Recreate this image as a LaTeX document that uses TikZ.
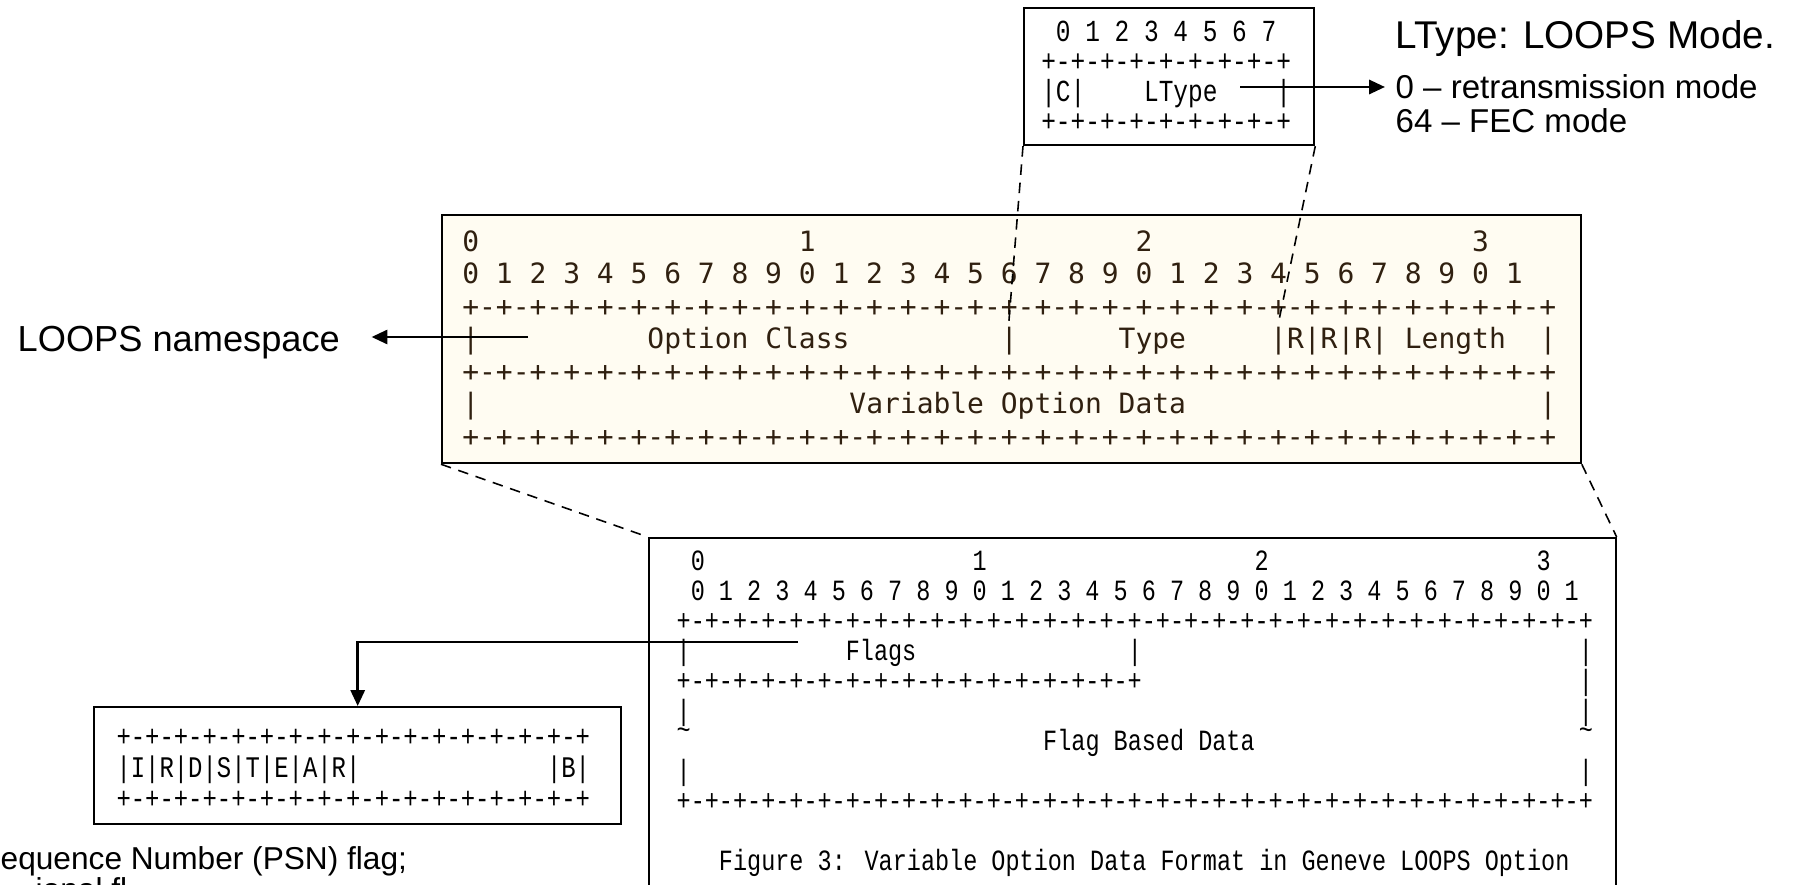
\documentclass[tikz,border=0pt]{standalone}
\usepackage{fontspec}
\setmainfont{Liberation Sans}
\newfontfamily\consfont{DejaVu Sans Mono}
\newfontfamily\sunfont{Liberation Mono}[FakeStretch=0.8]
\usetikzlibrary{arrows.meta}

\definecolor{paper}{RGB}{255,252,242}
\colorlet{box edge}{black}
\colorlet{field ink}{black!75!brown}
\tikzset{
  frame/.style={draw=box edge, line width=0.6pt, inner sep=0pt, anchor=north west},
  fieldrow/.style={anchor=base west, inner sep=0pt}
  }
\tikzstyle{zoom edge} = [draw, line width=0.45pt, dash pattern=on 3pt off 2.2pt]
\tikzstyle{pointer} = [draw, line width=0.75pt, -{Triangle[length=4.5pt,width=4pt]}]
\tikzstyle{label} = [anchor=base west, inner sep=0pt]
\newcommand{\gap}[1]{\hspace*{#1\fontcharwd\font`0}}
\def\byterule{+-+-+-+-+-+-+-+-}
\def\wordrule{\byterule\byterule\byterule\byterule+}

\begin{document}
\begin{tikzpicture}[x=0.01cm, y=-0.01cm]
    \useasboundingbox (0,0) rectangle (1805,885);

    % The frames
    \node[frame, minimum width=2.90cm, minimum height=1.37cm] (ltype) at (1023,7) {};
    \node[frame, fill=paper, minimum width=11.38cm, minimum height=2.48cm] (optbox) at (441,214) {};
    \node[frame, fill=white, minimum width=9.66cm, minimum height=3.8cm] (databox) at (648,537) {};
    \node[frame, minimum width=5.27cm, minimum height=1.17cm] (flagbox) at (93,706) {};

    % The LType byte
    \foreach \y/\name/\txt in {41.5/num/{\gap{1}0 1 2 3 4 5 6 7}, 71.5/top/{\byterule+},
                               101.5/field/{|C|\gap{4}LType\gap{4}|}, 131.5/bot/{\byterule+}}
      \node[fieldrow, font={\sunfont\fontsize{8.7}{10}\selectfont}] (ltype-\name) at (1040.6,\y) {\txt};

    % The Geneve option header
    \foreach \y/\name/\txt in {251.5/tens/{0\gap{19}1\gap{19}2\gap{19}3},
        284/ones/{0 1 2 3 4 5 6 7 8 9 0 1 2 3 4 5 6 7 8 9 0 1 2 3 4 5 6 7 8 9 0 1},
        316.5/r1/{\wordrule},
        349/class/{|\gap{10}Option Class\gap{9}|\gap{6}Type\gap{5}|R|R|R| Length\gap{2}|},
        381.5/r2/{\wordrule},
        414/data/{|\gap{22}Variable Option Data\gap{21}|},
        446.5/r3/{\wordrule}}
      \node[fieldrow, text=field ink, font={\consfont\fontsize{7.95}{10}\selectfont}] (opt-\name) at (461.6,\y) {\txt};

    % The variable option data
    \foreach \y/\name/\txt in {570.5/tens/{\gap{1}0\gap{19}1\gap{19}2\gap{19}3},
        600.5/ones/{\gap{1}0 1 2 3 4 5 6 7 8 9 0 1 2 3 4 5 6 7 8 9 0 1 2 3 4 5 6 7 8 9 0 1},
        630.5/r1/{\wordrule},
        660.5/flags/{|\gap{11}Flags\gap{15}|\gap{31}|},
        690.5/r2/{\byterule\byterule+\gap{31}|},
        720.5/b1/{|\gap{63}|},
        750.5/fbd/{\raisebox{3pt}{\textasciitilde}\gap{25}Flag Based Data\gap{23}\raisebox{3pt}{\textasciitilde}},
        780.5/b2/{|\gap{63}|},
        810.5/r3/{\wordrule},
        870.5/cap/{\gap{3}Figure 3: Variable Option Data Format in Geneve LOOPS Option}}
      \node[fieldrow, font={\sunfont\fontsize{8.35}{10}\selectfont}] (data-\name) at (676,\y) {\txt};

    % The flag bits
    \foreach \y/\name/\txt in {746.5/r1/{\byterule\byterule+}, 777.5/bits/{|I|R|D|S|T|E|A|R|\gap{13}|B|},
                               808.5/r2/{\byterule\byterule+}}
      \node[fieldrow, font={\sunfont\fontsize{8.5}{10}\selectfont}] (flag-\name) at (115.8,\y) {\txt};

    % The notes
    \node[label, font=\fontsize{11}{13}\selectfont] (mode) at (1395,49) {LType: LOOPS Mode.};
    \node[label, font=\fontsize{9.4}{11}\selectfont] (retx) at (1395,99) {0 – retransmission mode};
    \node[label, font=\fontsize{9.4}{11}\selectfont] (fec) at (1395,133) {64 – FEC mode};
    \node[label, font=\fontsize{10.3}{12}\selectfont] (namespace) at (17,351) {LOOPS namespace};
    \node[label, font=\fontsize{9}{11}\selectfont] (psn) at (0,869) {equence Number (PSN) flag;};
    \node[label, font=\fontsize{9}{11}\selectfont] (psn-next) at (35,900) {ional fl};

    % The zoom lines
    \coordinate (type-left) at (1008.6,325);
    \coordinate (type-right) at (1278,325);
    \path[zoom edge] (ltype.south west) -- (type-left);
    \path[zoom edge] (ltype.south east) -- (type-right);
    \path[zoom edge] (optbox.south west) -- (databox.north west);
    \path[zoom edge] (optbox.south east) -- (databox.north east);

    % The pointers
    \coordinate (ltype-tap) at (1240,87);
    \coordinate (class-tap) at (528,337);
    \coordinate (flags-tap) at (798,642);
    \path[pointer, shorten >=0.1cm] (ltype-tap) -- (ltype-tap -| mode.west);
    \path[pointer, shorten >=0.31cm] (class-tap) -- (class-tap -| namespace.east);
    \path[pointer] (flags-tap) -| (flagbox.north);
\end{tikzpicture}
\end{document}
